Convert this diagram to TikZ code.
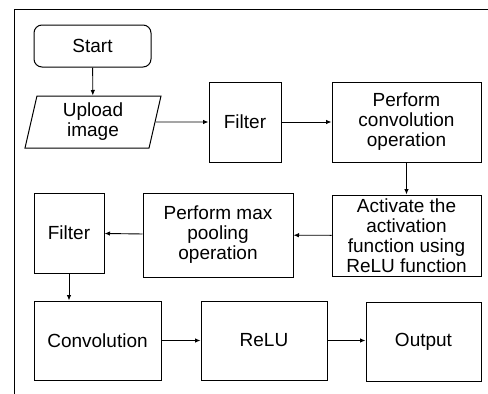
\documentclass[tikz,border=0pt]{standalone}
\usepackage{fontspec}
\setmainfont{Liberation Sans}
\usepackage{xcolor}
\usetikzlibrary{arrows.meta,positioning,shapes.geometric}

\begin{document}
\begin{tikzpicture}[
    x=1pt,y=-1pt,
    >={Latex[length=5.5pt,width=4.5pt]},
    every node/.style={font=\fontsize{19}{20}\selectfont},
    box/.style={draw,line width=1pt,align=center,inner sep=2pt},
    term/.style={box,rounded corners=8pt,minimum width=117pt,minimum height=42pt},
    io/.style={box,trapezium,trapezium left angle=74,trapezium right angle=106,
               trapezium stretches body,minimum width=136pt,minimum height=52pt},
    arr/.style={->,line width=0.9pt}
  ]
  \useasboundingbox (0,0) rectangle (488,394);
  %% Frame (clipped at right and bottom)
  \draw[line width=1pt] (14,394) -- (14,9) -- (488,9);
  %% Top row
  \node[term] (start)  at (92.5,46)  {Start};
  \node[io]   (upload) at (93,122)   {Upload\\image};
  \node[box,minimum width=72pt,minimum height=80pt]  (filt1) at (245,122)   {Filter};
  \node[box,minimum width=149pt,minimum height=80pt] (conv)  at (406.5,122) {Perform\\convolution\\operation};
  %% Middle row
  \node[box,minimum width=149pt,minimum height=81pt] (act)   at (406.5,235.5) {Activate the\\activation\\function using\\ReLU function};
  \node[box,minimum width=150pt,minimum height=84pt] (pool)  at (218,235)   {Perform max\\pooling\\operation};
  \node[box,minimum width=70pt,minimum height=80pt]  (filt2) at (69,233)    {Filter};
  %% Bottom row
  \node[box,minimum width=127pt,minimum height=79pt] (convb)  at (97.5,340.5) {Convolution};
  \node[box,minimum width=126pt,minimum height=79pt] (relu)   at (264,340.5)  {ReLU};
  \node[box,minimum width=115pt,minimum height=79pt] (output) at (423.5,342)  {Output};
  %% Connectors
  \draw[arr] (start) -- (upload);
  \draw[arr] (upload) -- (filt1);
  \draw[arr] (filt1) -- (conv);
  \draw[arr] (conv) -- (act);
  \draw[arr] (act) -- (pool);
  \draw[arr] (pool) -- (filt2);
  \draw[arr] (filt2) -- (filt2 |- convb.north);
  \draw[arr] (convb) -- (relu);
  \draw[arr] (relu.east) -- (relu.east -| output.west);
\end{tikzpicture}
\end{document}
